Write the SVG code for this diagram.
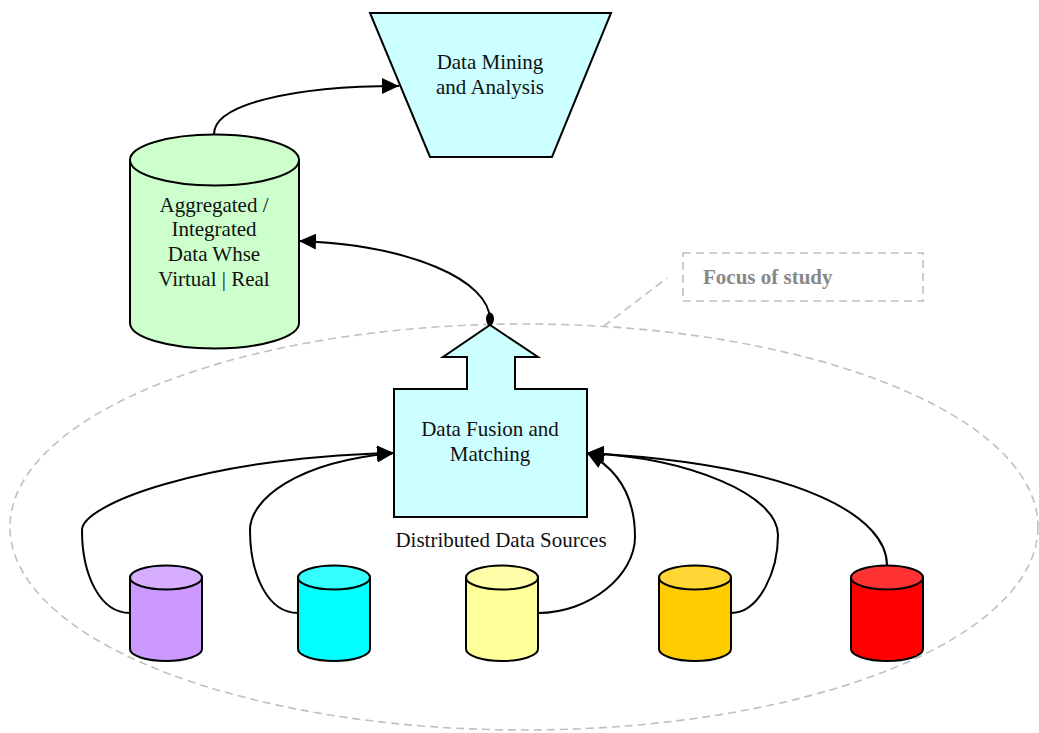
<svg xmlns="http://www.w3.org/2000/svg" width="1039" height="733" viewBox="0 0 1039 733">
<style>
.shape{stroke:#000;stroke-width:2;stroke-linejoin:miter}
.lbl{font-family:"Liberation Serif","Times New Roman",serif;font-size:21px;fill:#111;text-anchor:middle}
.dash{fill:none;stroke:#c0c0c0;stroke-width:1.6;stroke-dasharray:8,5}
.conn{fill:none;stroke:#000;stroke-width:2}
.focus{font-family:"Liberation Serif","Times New Roman",serif;font-size:21px;font-weight:bold;fill:#888}
</style>
<defs>
<marker id="ah" markerUnits="userSpaceOnUse" markerWidth="18" markerHeight="16" refX="17" refY="8" orient="auto">
<path d="M0,0 L17,8 L0,16 Z" fill="#000"/>
</marker>
</defs>
<rect width="1039" height="733" fill="#fff"/>

<g id="focus-region">
<ellipse cx="524" cy="527" rx="514" ry="203" class="dash"/>
<path d="M604,326 L667,278" class="dash"/>
<rect x="683" y="253" width="240" height="48" class="dash"/>
<text x="703" y="284" class="focus">Focus of study</text>
</g>

<g id="data-mining">
<polygon points="370,13 611,13 552,157 430,157" fill="#ccffff" class="shape"/>
<text x="490" y="69" class="lbl">Data Mining</text>
<text x="490" y="94" class="lbl">and Analysis</text>
</g>

<g id="warehouse">
<path d="M130,160 L130,323 A84.5,25.5 0 0 0 299,323 L299,160 Z" fill="#ccffcc" class="shape"/>
<ellipse cx="214.5" cy="160" rx="84.5" ry="25.5" fill="#ccffcc" class="shape"/>
<text x="214" y="212" class="lbl">Aggregated /</text>
<text x="214" y="236" class="lbl">Integrated</text>
<text x="214" y="261" class="lbl">Data Whse</text>
<text x="214" y="286" class="lbl">Virtual | Real</text>
</g>

<g id="fusion">
<path d="M394,389 L467,389 L467,357 L443,357 L490,325 L538,357 L515,357 L515,389 L587,389 L587,517 L394,517 Z" fill="#ccffff" class="shape"/>
<text x="490" y="436" class="lbl">Data Fusion and</text>
<text x="490" y="461" class="lbl">Matching</text>
<text x="501" y="547" class="lbl">Distributed Data Sources</text>
</g>

<g id="src-purple">
<path d="M130,577.5 L130,649 A36,12 0 0 0 202,649 L202,577.5 Z" fill="#cc99ff" class="shape"/>
<ellipse cx="166" cy="577.5" rx="36" ry="12" fill="#d6adff" class="shape"/>
</g>
<g id="src-cyan">
<path d="M298,577.5 L298,649 A36,12 0 0 0 370,649 L370,577.5 Z" fill="#00ffff" class="shape"/>
<ellipse cx="334" cy="577.5" rx="36" ry="12" fill="#33ffff" class="shape"/>
</g>
<g id="src-yellow">
<path d="M466,577.5 L466,649 A36,12 0 0 0 538,649 L538,577.5 Z" fill="#ffff99" class="shape"/>
<ellipse cx="502" cy="577.5" rx="36" ry="12" fill="#ffffaa" class="shape"/>
</g>
<g id="src-orange">
<path d="M659,577.5 L659,649 A36,12 0 0 0 731,649 L731,577.5 Z" fill="#ffcc00" class="shape"/>
<ellipse cx="695" cy="577.5" rx="36" ry="12" fill="#ffd633" class="shape"/>
</g>
<g id="src-red">
<path d="M851,577.5 L851,649 A36,12 0 0 0 923,649 L923,577.5 Z" fill="#ff0000" class="shape"/>
<ellipse cx="887" cy="577.5" rx="36" ry="12" fill="#ff3333" class="shape"/>
</g>

<g id="connectors">
<path d="M214,134 C214,105 290,86 399,86" class="conn" marker-end="url(#ah)"/>
<path d="M490,320 C490,280 410,245 299,241" class="conn" marker-end="url(#ah)"/>
<ellipse cx="490" cy="319" rx="4" ry="6.5" fill="#000"/>
<path d="M130,613 C100,613 82,575 82,530 C82,505 200,458 394,453" class="conn" marker-end="url(#ah)"/>
<path d="M298,613 C268,613 250,575 250,530 C250,500 295,462 394,453" class="conn" marker-end="url(#ah)"/>
<path d="M538,613 C590,613 635,575 635,537 C635,500 620,470 587,453" class="conn" marker-end="url(#ah)"/>
<path d="M731,613 C760,613 778,570 778,535 C778,495 690,458 587,453" class="conn" marker-end="url(#ah)"/>
<path d="M887,565 C887,520 810,465 587,453" class="conn" marker-end="url(#ah)"/>
</g>
</svg>
